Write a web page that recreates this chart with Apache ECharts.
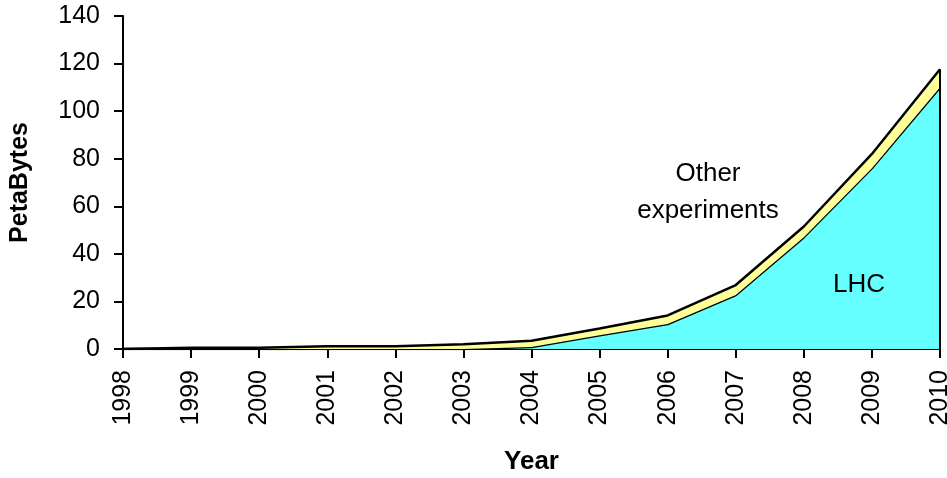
<!DOCTYPE html>
<html><head><meta charset="utf-8">
<script src="https://cdn.jsdelivr.net/npm/echarts@6/dist/echarts.min.js"></script>
<style>html,body{margin:0;padding:0;background:#fff}#c{width:947px;height:478px}</style>
</head><body><div id="c"></div>
<script>
const years = ['1998','1999','2000','2001','2002','2003','2004','2005','2006','2007','2008','2009','2010'];
const lhc   = [0, 0, 0, 0, 0, 0, 0.8, 5.8, 10.5, 22.7, 47, 76, 110];
const other = [0, 0.5, 0.5, 1.2, 1.2, 2, 2.7, 2.8, 3.6, 4.2, 4.5, 6, 7.6];
const yTicks = {min: 0, max: 140, interval: 20};
const font = '"Liberation Sans", Arial, sans-serif';
const total = lhc.map((v, i) => v + other[i]);
const last = years.length - 1;

const chart = echarts.init(document.getElementById('c'));
chart.setOption({
  animation: false,
  backgroundColor: '#fff',
  grid: {left: 123, right: 7, top: 16, bottom: 129, containLabel: false, outerBoundsMode: 'none'},
  xAxis: {
    type: 'category', data: years, boundaryGap: false,
    name: 'Year', nameLocation: 'middle', nameGap: 100,
    nameTextStyle: {fontFamily: font, fontWeight: 'bold', fontSize: 26, color: '#000'},
    axisLine: {lineStyle: {color: '#000', width: 2}},
    axisTick: {alignWithLabel: true, length: 9, lineStyle: {color: '#000', width: 2}},
    axisLabel: {rotate: 90, fontFamily: font, fontSize: 25, color: '#000', margin: 21, interval: 0}
  },
  yAxis: {
    type: 'value', min: yTicks.min, max: yTicks.max, interval: yTicks.interval,
    name: 'PetaBytes', nameLocation: 'middle', nameGap: 90,
    nameTextStyle: {fontFamily: font, fontWeight: 'bold', fontSize: 25, color: '#000'},
    axisLine: {show: true, lineStyle: {color: '#000', width: 2}},
    axisTick: {show: true, length: 9, lineStyle: {color: '#000', width: 2}},
    splitLine: {show: false},
    axisLabel: {fontFamily: font, fontSize: 25, color: '#000', margin: 23}
  },
  series: [
    {
      name: 'LHC', type: 'line', stack: 'all', data: lhc, symbol: 'none',
      lineStyle: {color: '#000', width: 2.5},
      areaStyle: {color: '#66FFFF', opacity: 1},
      z: 2
    },
    {
      name: 'Other experiments', type: 'line', stack: 'all', data: other, symbol: 'none',
      lineStyle: {color: '#000', width: 2.5},
      areaStyle: {color: '#FFFF99', opacity: 1},
      z: 3,
      markLine: {
        silent: true, symbol: 'none', label: {show: false},
        lineStyle: {color: '#000', width: 2, type: 'solid'},
        data: [[{coord: [years[last], 0]}, {coord: [years[last], total[last]]}]]
      }
    }
  ],
  graphic: [
    {type: 'text', z: 100, x: 708, y: 174, style: {text: 'Other', font: '26px ' + font, fill: '#000', align: 'center', verticalAlign: 'middle'}},
    {type: 'text', z: 100, x: 708, y: 211, style: {text: 'experiments', font: '26px ' + font, fill: '#000', align: 'center', verticalAlign: 'middle'}},
    {type: 'text', z: 100, x: 859, y: 285, style: {text: 'LHC', font: '26px ' + font, fill: '#000', align: 'center', verticalAlign: 'middle'}}
  ]
});
</script></body></html>
